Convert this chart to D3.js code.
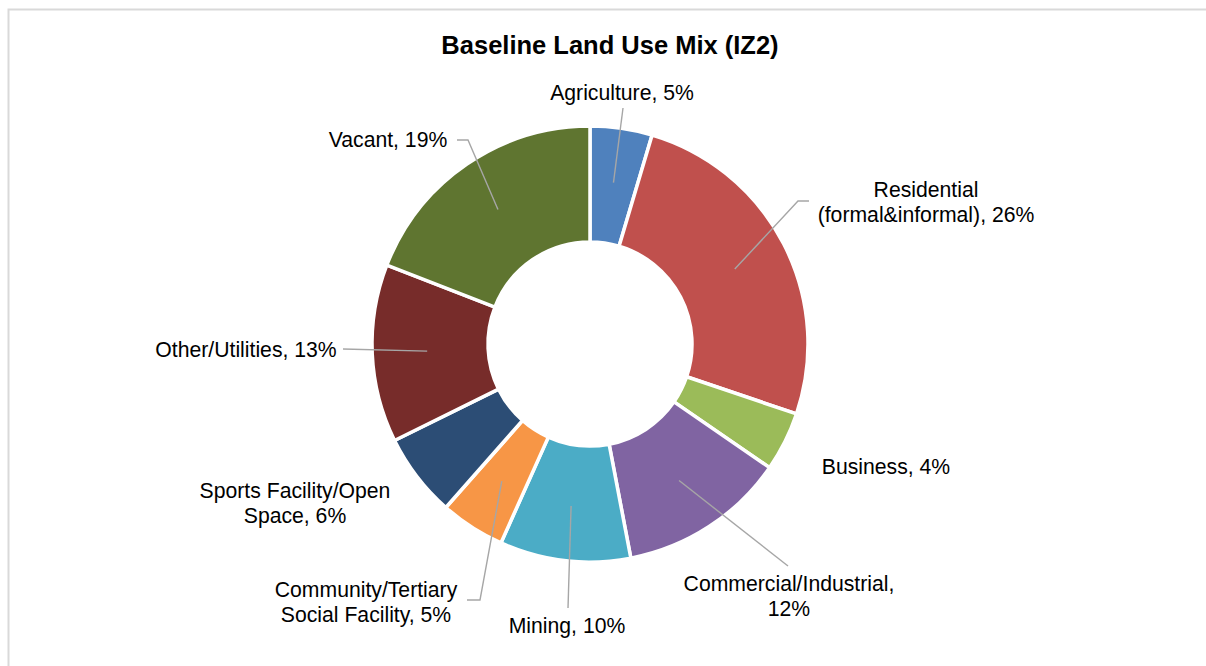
<!DOCTYPE html>
<html>
<head>
<meta charset="utf-8">
<script src="https://cdn.jsdelivr.net/npm/d3@7"></script>
<style>
  html, body { margin: 0; padding: 0; background: #ffffff; }
  svg { display: block; }
  text { font-family: "Liberation Sans", Arial, sans-serif; fill: #000000; }
</style>
</head>
<body>
<svg id="chart" width="1206" height="666"></svg>
<script>
// ---- data ----
const categories = [
  "Agriculture",
  "Residential (formal&informal)",
  "Business",
  "Commercial/Industrial",
  "Mining",
  "Community/Tertiary Social Facility",
  "Sports Facility/Open Space",
  "Other/Utilities",
  "Vacant"
];
const values = [4.6, 25.6, 4.4, 12.4, 9.7, 4.8, 6.2, 13.2, 19.1];
const colors = ["#4F81BD", "#C0504D", "#9BBB59", "#8064A2", "#4BACC6", "#F79646", "#2C4D75", "#772C2A", "#5F7530"];
const labelLines = [
  ["Agriculture, 5%"],
  ["Residential", "(formal&informal), 26%"],
  ["Business, 4%"],
  ["Commercial/Industrial,", "12%"],
  ["Mining, 10%"],
  ["Community/Tertiary", "Social Facility, 5%"],
  ["Sports Facility/Open", "Space, 6%"],
  ["Other/Utilities, 13%"],
  ["Vacant, 19%"]
];
const title = "Baseline Land Use Mix (IZ2)";

// ---- layout (positions only) ----
const cx = 590, cy = 344, outerR = 218, innerR = 102, leaderR = 163;
// label: center x, first baseline y; leader: start point and optional elbow
const labelLayout = [
  { x: 622, y: 100, leader: [[623, 108]] },
  { x: 926, y: 197, leader: [[809, 201], [798, 201]] },
  { x: 886, y: 474, leader: null },
  { x: 789, y: 591, leader: [[788, 566]] },
  { x: 567, y: 633, leader: [[568, 608]] },
  { x: 366, y: 597, leader: [[467, 600], [480, 600]] },
  { x: 295, y: 498, leader: null },
  { x: 246, y: 357, leader: [[343, 349]] },
  { x: 388, y: 147, leader: [[457, 140], [468, 140]] }
];
const lineGap = 24.5;

const svg = d3.select("#chart");

// chart frame
svg.append("rect")
  .attr("x", 8.5).attr("y", 9.5)
  .attr("width", 1210).attr("height", 670)
  .attr("fill", "#ffffff")
  .attr("stroke", "#d9d9d9")
  .attr("stroke-width", 2);

// title
svg.append("text")
  .attr("x", 610).attr("y", 54)
  .attr("text-anchor", "middle")
  .style("font-size", "25.5px")
  .style("font-weight", "bold")
  .text(title);

const pie = d3.pie().sort(null).value(d => d);
const arcs = pie(values);
const arc = d3.arc().innerRadius(innerR).outerRadius(outerR);
const leaderArc = d3.arc().innerRadius(leaderR).outerRadius(leaderR);

const g = svg.append("g").attr("transform", `translate(${cx},${cy})`);
g.selectAll("path.slice")
  .data(arcs)
  .join("path")
  .attr("class", "slice")
  .attr("d", arc)
  .attr("fill", (d, i) => colors[i])
  .attr("stroke", "#ffffff")
  .attr("stroke-width", 3.5)
  .attr("stroke-linejoin", "miter");

// leader lines
const lineGen = d3.line();
arcs.forEach((d, i) => {
  const lay = labelLayout[i];
  if (!lay.leader) return;
  const c = leaderArc.centroid(d);
  const pts = lay.leader.concat([[c[0] + cx, c[1] + cy]]);
  svg.append("path")
    .attr("d", lineGen(pts))
    .attr("fill", "none")
    .attr("stroke", "#a6a6a6")
    .attr("stroke-width", 1.4);
});

// labels
arcs.forEach((d, i) => {
  const lay = labelLayout[i];
  const t = svg.append("text")
    .attr("text-anchor", "middle")
    .style("font-size", "21.2px");
  labelLines[i].forEach((ln, k) => {
    t.append("tspan")
      .attr("x", lay.x)
      .attr("y", lay.y + k * lineGap)
      .text(ln);
  });
});
</script>
</body>
</html>
